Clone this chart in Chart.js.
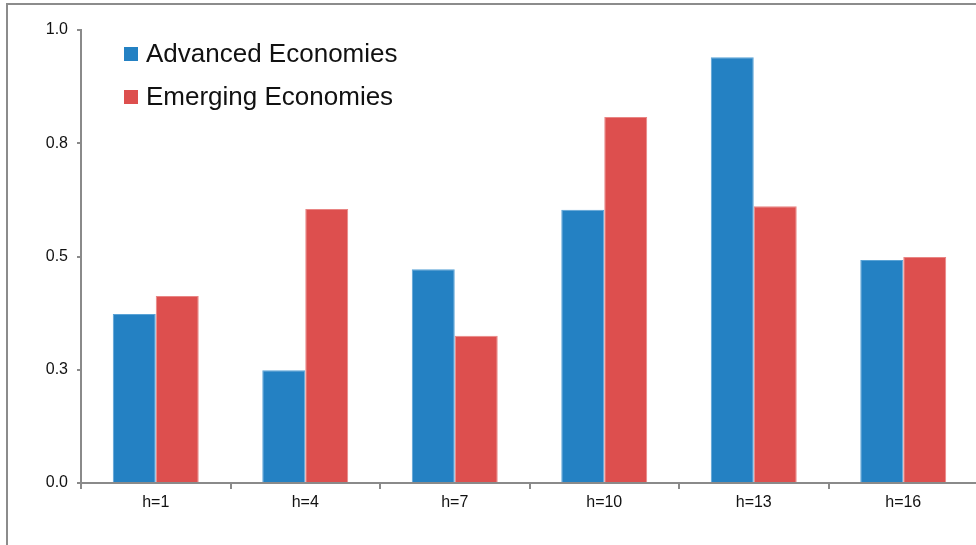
<!DOCTYPE html>
<html>
<head>
<meta charset="utf-8">
<script src="https://cdn.jsdelivr.net/npm/chart.js@4.4.1/dist/chart.umd.min.js"></script>
<style>
    html, body { margin: 0; padding: 0; background: #fff; overflow: hidden; }
    #wrap { position: absolute; left: 0; top: 0; width: 980px; height: 545px; }
    #frame { position: absolute; left: 6px; top: 3px; width: 1200px; height: 800px; border: 2px solid #8c8c8c; box-sizing: border-box; }
    #legend { position: absolute; left: 124px; top: 32px; font-family: "Liberation Sans", Arial, sans-serif; font-size: 26px; color: #111; }
    .item { display: flex; align-items: center; height: 43px; }
    .swatch { width: 14px; height: 14px; margin-right: 8px; }
</style>
</head>
<body>
<div id="frame"></div>
<div id="wrap"><canvas id="barChart" width="980" height="545"></canvas></div>
<div id="legend"></div>
<script>
const categories = ['h=1', 'h=4', 'h=7', 'h=10', 'h=13', 'h=16'];
const advancedValues = [0.373, 0.249, 0.472, 0.603, 0.940, 0.492];
const emergingValues = [0.413, 0.605, 0.325, 0.808, 0.611, 0.499];
const seriesNames = ['Advanced Economies', 'Emerging Economies'];
const yTicks = [0, 0.25, 0.5, 0.75, 1.0];

const blue = '#2481c3';
const red = '#dd4f4e';

// html legend sits inside the plot area like the original
const legendEl = document.getElementById('legend');
[[seriesNames[0], blue], [seriesNames[1], red]].forEach(([name, color]) => {
    const row = document.createElement('div');
    row.className = 'item';
    row.innerHTML = `<span class="swatch" style="background:${color}"></span><span>${name}</span>`;
    legendEl.appendChild(row);
});

const ctx = document.getElementById('barChart').getContext('2d');
const axisColor = '#8a8a8a';

new Chart(ctx, {
    type: 'bar',
    data: {
        labels: categories,
        datasets: [
            {
                label: seriesNames[0],
                data: advancedValues,
                backgroundColor: blue,
                borderColor: '#5aa3d6',
                borderWidth: 1,
                categoryPercentage: 0.575,
                barPercentage: 1.0
            },
            {
                label: seriesNames[1],
                data: emergingValues,
                backgroundColor: red,
                borderColor: '#e98584',
                borderWidth: 1,
                categoryPercentage: 0.575,
                barPercentage: 1.0
            }
        ]
    },
    options: {
        responsive: false,
        animation: false,
        layout: { padding: { top: 30, left: 0, right: 2, bottom: 0 } },
        scales: {
            x: {
                grid: {
                    display: true,
                    offset: true,
                    drawOnChartArea: false,
                    tickLength: 6,
                    color: axisColor,
                    lineWidth: 2
                },
                border: { color: axisColor, width: 2 },
                ticks: {
                    color: '#111',
                    padding: 4,
                    font: { family: 'Liberation Sans', size: 16 }
                },
                afterFit: (scale) => { scale.height = 62; }
            },
            y: {
                min: 0,
                max: 1,
                afterBuildTicks: (scale) => { scale.ticks = yTicks.map(v => ({ value: v })); },
                grid: {
                    display: true,
                    drawOnChartArea: false,
                    tickLength: 4,
                    color: axisColor,
                    lineWidth: 2
                },
                border: { color: axisColor, width: 2 },
                ticks: {
                    color: '#111',
                    padding: 9,
                    font: { family: 'Liberation Sans', size: 16 },
                    callback: (value) => Number(value).toFixed(1)
                },
                afterFit: (scale) => { scale.width = 81; }
            }
        },
        plugins: {
            legend: { display: false },
            tooltip: { enabled: false }
        }
    }
});
</script>
</body>
</html>
